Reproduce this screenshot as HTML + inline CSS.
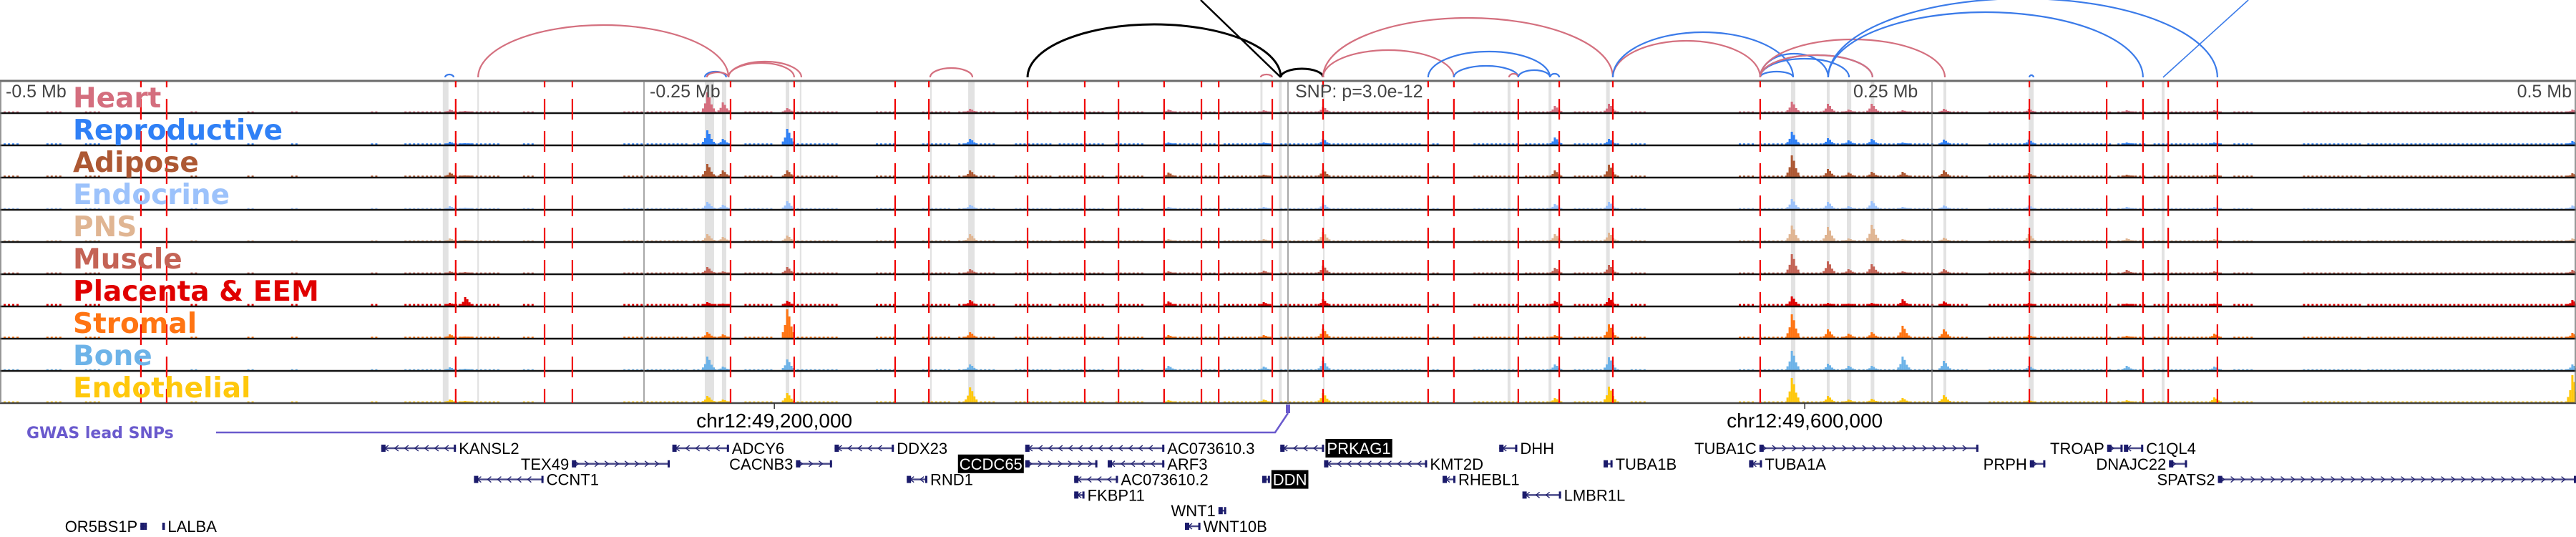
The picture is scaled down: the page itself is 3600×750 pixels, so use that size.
<!DOCTYPE html>
<html><head><meta charset="utf-8"><title>chr12 locus tracks</title>
<style>
html,body{margin:0;padding:0;background:#fff;}
svg{display:block;font-family:"Liberation Sans","DejaVu Sans",sans-serif;}
</style></head>
<body>
<svg id="chart" width="3600" height="750" viewBox="0 0 3600 750" xmlns="http://www.w3.org/2000/svg">
<g id="arcs"></g>
<g id="highlights"></g>
<g id="signals"></g>
<g id="frame"></g>
<g id="redlines"></g>
<g id="labels"></g>
<g id="genes"></g>
</svg>
<script>
// ---- data ----
const tissueNames = ["Heart","Reproductive","Adipose","Endocrine","PNS","Muscle","Placenta & EEM","Stromal","Bone","Endothelial"];
const tissueColors = ["#d46e7e","#2f80f6","#ad5833","#9cc2fb","#e0b592","#c46355","#e00000","#ff7412","#6db3e8","#ffc80c"];
const bgLevels = [2,2.5,2.5,2,2,2,3.5,2.5,2,2];
const bgSegments = [[-498.6,-493],[-482,-476],[-467,-461],[-426,-424],[-404,-401],[-387,-385],[-356,-353],[-343,-328],[-322,-306],[-297,-293],[-258,-251],[-249,-233],[-231,-217],[-211,-200],[-194,-175],[-160,-153],[-142,-131],[-128,-114],[-106,-92],[-89,-72],[-67,-56],[-44,-28],[-25,-8],[-3,11],[14,51],[56,58],[72,89],[92,106],[111,128],[133,139],[175,181],[183,250],[253,264],[272,289],[292,319],[322,333],[336,361],[367,375],[394,417],[419,500]];
const peakKb = [-325,-319,-225,-219,-194,-123,-46,-9,14,104,125,196,210,218,227,239,255,288,326,360,499];
const peakHeights = [
 [4,4,6,4,4,3,4,5,4,4],
 [2,2,2,2,2,2,12,2,2,2],
 [28,20,18,10,10,9,5,8,19,9],
 [14,8,9,6,6,3,3,5,5,4],
 [6,22,9,11,8,9,7,40,15,13],
 [5,8,9,6,10,6,8,8,8,21],
 [4,3,6,3,3,3,6,4,6,3],
 [3,3,3,3,3,4,5,4,5,4],
 [8,8,10,8,13,11,9,13,13,13],
 [9,10,9,7,10,8,7,4,8,6],
 [12,8,17,10,12,12,11,19,18,22],
 [15,18,30,14,22,27,13,33,27,34],
 [12,9,11,10,20,17,4,12,9,9],
 [4,6,6,4,4,6,3,6,6,4],
 [12,8,7,11,23,13,4,8,6,5],
 [3,3,7,3,3,3,9,17,19,6],
 [5,7,9,5,5,6,6,12,13,10],
 [5,7,5,5,10,6,4,4,6,3],
 [3,3,3,3,4,5,3,3,6,3],
 [3,3,3,3,3,3,3,6,5,7],
 [4,5,5,5,4,5,8,7,8,38]
];
const redLineKb = [-445.3,-435.3,-323.1,-288.6,-277.8,-216.4,-191.7,-152.5,-139.4,-101.1,-78.9,-65.8,-48.1,-33.6,-26.9,-6.1,13.6,54.4,64.4,89.4,105.3,126.1,183.3,287.8,317.8,331.9,341.7,360.8];
const highlightKb = [-327,-314.4,-224.6,-218.9,-194.3,-189.2,-138.6,-122.9,-10.3,-3,13.9,85.8,101.7,124.2,196.1,209.7,217.8,226.9,255,288.5,339.7];
const highlightWidthKb = [2.2,0.6,3.6,1.7,1.4,0.6,0.6,2.5,0.8,1.1,0.6,1.1,1.1,1.4,1.7,1.1,1.7,1.4,1.1,1.9,1.1];
const arcStart = [-327.2,-314.4,-226.4,-225.6,-217.2,-217.2,-138.9,-101.1,-10.6,-2.8,13.6,13.6,54.4,64.4,85.8,89.4,101.7,126.1,126.1,183.3,183.3,183.3,183.3,183.3,183.3,209.7,209.7,287.8];
const arcEnd   = [-323.9,-217.2,-218.1,-217.2,-191.7,-188.9,-122.5,-2.8,-6.1,13.6,126.1,64.4,101.7,89.4,89.4,101.7,105.3,183.3,196.1,196.1,209.7,217.8,226.9,226.9,255,331.9,360.8,289.4];
const arcHeight = [4,73,8,7,20,22,13,74,4,12,83,38,36,16,5,10,5,51,63,8,33,26,31,31,53,91,110,3];
const arcTissue = ["blue","pink","blue","pink","pink","pink","pink","black","pink","black","pink","pink","blue","blue","pink","blue","blue","pink","blue","blue","blue","blue","blue","pink","pink","blue","blue","blue"];
const lineStartKb = [-2.8,339.7];
const lineEndKb = [-33.9,372.8];
const lineTissue = ["black","blue"];
const geneNames = ["KANSL2","ADCY6","DDX23","AC073610.3","PRKAG1","DHH","TUBA1C","TROAP","C1QL4","TEX49","CACNB3","CCDC65","ARF3","KMT2D","TUBA1B","TUBA1A","PRPH","DNAJC22","CCNT1","RND1","AC073610.2","DDN","RHEBL1","SPATS2","FKBP11","LMBR1L","WNT1","WNT10B","OR5BS1P","LALBA"];
const geneStart = [-352,-239,-176,-102,-3,82,183,318,324.5,-278,-191,-102,-70,14,122.5,179,288,342,-316,-148,-83,-10,60,361,-83,91,-27,-40,-445.5,-437];
const geneEnd   = [-323,-217,-153,-48,14,89,268,324,332,-240,-177,-74,-48,54,126,184,294,349,-289,-140,-66,-7,65,500,-79,106,-24,-34,-443,-436];
const geneStrand = ["-","-","-","-","-","-","+","+","-","+","+","+","-","-","-","-","+","+","-","-","-","-","-","+","-","-","+","-","+","+"];
const geneRow = [0,0,0,0,0,0,0,0,0,1,1,1,1,1,1,1,1,1,2,2,2,2,2,2,3,3,4,5,5,5];
const geneLabelSide = ["R","R","R","R","R","R","L","L","R","L","L","L","R","R","R","R","L","L","R","R","R","R","R","L","R","R","L","R","L","R"];
const geneHighlighted = ["PRKAG1","CCDC65","DDN"];

// ---- axes ----
const NS = "http://www.w3.org/2000/svg";
const xScale = kb => 1800 + kb * 3.6;
const TRACK_TOP = 113, TRACK_H = 45;
const trackBottom = i => TRACK_TOP + TRACK_H * (i + 1);
const arcBase = 108;
const rowY = r => 626 + r * 21.8;
const arcColor = {pink:"#d4707f", blue:"#3b7be9", black:"#000"};

function mk(tag, attrs, parent){
  const el = document.createElementNS(NS, tag);
  for (const k in attrs) el.setAttribute(k, attrs[k]);
  parent.appendChild(el);
  return el;
}
const gArcs = document.getElementById("arcs");
const gHi = document.getElementById("highlights");
const gSig = document.getElementById("signals");
const gFrame = document.getElementById("frame");
const gRed = document.getElementById("redlines");
const gLab = document.getElementById("labels");
const gGenes = document.getElementById("genes");

// arcs
for (let i = 0; i < arcStart.length; i++){
  const x1 = xScale(arcStart[i]), x2 = xScale(arcEnd[i]);
  const rx = (x2 - x1) / 2, ry = arcHeight[i];
  const p = mk("path", {d:`M${x1},${arcBase} A${rx},${ry} 0 0 1 ${x2},${arcBase}`, fill:"none", stroke:arcColor[arcTissue[i]], "stroke-width": arcTissue[i]==="black"?3:2.2}, gArcs);
  
  
}
for (let i = 0; i < lineStartKb.length; i++){
  const l = mk("line", {x1:xScale(lineStartKb[i]), y1:arcBase, x2:xScale(lineEndKb[i]), y2:0, stroke:arcColor[lineTissue[i]], "stroke-width": lineTissue[i]==="black"?2.5:1.6}, gArcs);
  
  
}

// highlight columns
for (let i = 0; i < highlightKb.length; i++){
  const w = Math.max(2, highlightWidthKb[i] * 3.6);
  const r = mk("rect", {x:xScale(highlightKb[i]) - w/2, y:TRACK_TOP, width:w, height:TRACK_H*10, fill:"#e2e2e2"}, gHi);
  
  
}

// signals
for (let t = 0; t < tissueNames.length; t++){
  const g = mk("g", {fill:tissueColors[t]}, gSig);
  
  
  const base = trackBottom(t) - 1;
  for (let s = 0; s < bgSegments.length; s++){
    const x1 = xScale(bgSegments[s][0]), x2 = xScale(bgSegments[s][1]);
    const h = bgLevels[t] * 0.7;
    for (let x = x1; x < x2; x += 6){
      const r = mk("rect", {x:x, y:base - h, width:3, height:h}, g);
      
      
    }
  }
  for (let p = 0; p < peakKb.length; p++){
    const h = Math.min(43, peakHeights[p][t]);
    const cx = xScale(peakKb[p]);
    const shape = [[-9,0.2],[-6,0.45],[-3,1],[0,0.75],[3,0.4],[6,0.2]];
    shape.forEach(([dx, f]) => {
      const hh = Math.max(bgLevels[t]*0.7, h * f);
      const r = mk("rect", {x:cx + dx, y:base - hh, width:3, height:hh}, g);
      
      
    });
  }
}

// frame: separators
mk("line", {x1:0, y1:TRACK_TOP, x2:3600, y2:TRACK_TOP, stroke:"#6b6b6b", "stroke-width":3}, gFrame);
for (let t = 0; t < 10; t++){
  const y = trackBottom(t);
  const l = mk("line", {x1:0, y1:y, x2:3600, y2:y, stroke:t===9?"#444":"#111", "stroke-width":2.5}, gFrame);
  
  
}
mk("line", {x1:1, y1:TRACK_TOP, x2:1, y2:trackBottom(9), stroke:"#777", "stroke-width":1.5}, gFrame);
mk("line", {x1:3599, y1:TRACK_TOP, x2:3599, y2:trackBottom(9), stroke:"#777", "stroke-width":1.5}, gFrame);
[-250,0,250].forEach(kb=>{
  const l = mk("line", {x1:xScale(kb), y1:TRACK_TOP, x2:xScale(kb), y2:trackBottom(9), stroke:"#7a7a7a", "stroke-width":1.3}, gFrame);
  
  
});

// red dashed lines
for (let i = 0; i < redLineKb.length; i++){
  const l = mk("line", {x1:xScale(redLineKb[i]), y1:TRACK_TOP, x2:xScale(redLineKb[i]), y2:trackBottom(9), stroke:"#f00000", "stroke-width":2.2, "stroke-dasharray":"29 16", "stroke-dashoffset":20}, gRed);
  
  
}

// scale labels
const scaleTexts = [["-0.5 Mb",8,"start"],["-0.25 Mb",908,"start"],["SNP: p=3.0e-12",1810,"start"],["0.25 Mb",2590,"start"],["0.5 Mb",3594,"end"]];
scaleTexts.forEach(([s,x,a])=>{
  const tx = mk("text", {x:x, y:136, "font-size":25, fill:"#444", "text-anchor":a}, gLab);
  tx.textContent = s;
  
  
});
// track labels
for (let t = 0; t < tissueNames.length; t++){
  const tx = mk("text", {x:102, y:trackBottom(t) - 8, "font-size":39, "font-weight":"bold", fill:tissueColors[t], "font-family":"DejaVu Sans, Liberation Sans, sans-serif"}, gLab);
  tx.textContent = tissueNames[t];
  
  
}
// coordinate axis
[[49200000,-199.4],[49600000,200.6]].forEach(([pos,kb])=>{
  const x = xScale(kb);
  mk("line", {x1:x, y1:trackBottom(9), x2:x, y2:trackBottom(9)+8, stroke:"#333", "stroke-width":1.5}, gLab);
  const tx = mk("text", {x:x, y:597, "font-size":28, fill:"#000", "text-anchor":"middle"}, gLab);
  tx.textContent = "chr12:" + pos.toLocaleString("en-US");
  
  
});
// GWAS lead SNPs
const gw = mk("text", {x:37, y:612, "font-size":22, "font-weight":"bold", fill:"#6a5acd", "font-family":"DejaVu Sans, Liberation Sans, sans-serif"}, gLab);
gw.textContent = "GWAS lead SNPs";


mk("path", {d:`M302,604 L${xScale(-5)},604 L${xScale(0)},577`, fill:"none", stroke:"#6a5acd", "stroke-width":2.5}, gLab);
const snp = mk("rect", {x:xScale(0)-3, y:565, width:6, height:12, fill:"#6a5acd"}, gLab);



// genes
for (let i = 0; i < geneNames.length; i++){
  const x1 = xScale(geneStart[i]), x2 = xScale(geneEnd[i]), y = rowY(geneRow[i]);
  const g = mk("g", {}, gGenes);
  
  
  mk("line", {x1:x1, y1:y, x2:x2, y2:y, stroke:"#4a4a8a", "stroke-width":2.5}, g);
  const n = Math.floor((x2 - x1) / 14);
  for (let k = 0; k < n; k++){
    const cx = x1 + 7 + k * 14;
    const d = geneStrand[i] === "+" ? `M${cx-3},${y-4} L${cx+2},${y} L${cx-3},${y+4}` : `M${cx+3},${y-4} L${cx-2},${y} L${cx+3},${y+4}`;
    mk("path", {d:d, fill:"none", stroke:"#1f1f6e", "stroke-width":1.3}, g);
  }
  mk("rect", {x:x1, y:y-5, width:Math.min(6, x2-x1), height:10, fill:"#1b1b6b"}, g);
  mk("rect", {x:x2-3, y:y-5, width:3, height:10, fill:"#1b1b6b"}, g);
  const hl = geneHighlighted.includes(geneNames[i]);
  const right = geneLabelSide[i] === "R";
  const tx = mk("text", {x: right ? x2 + 4 : x1 - 4, y:y + 8, "font-size":22, fill: hl ? "#fff" : "#000", "text-anchor": right ? "start" : "end"}, g);
  tx.textContent = geneNames[i];
  
  
  if (hl){
    const bb = tx.getBBox();
    const bg = document.createElementNS(NS, "rect");
    bg.setAttribute("x", bb.x - 2); bg.setAttribute("y", y - 13);
    bg.setAttribute("width", bb.width + 4); bg.setAttribute("height", 26);
    bg.setAttribute("fill", "#000");
    g.insertBefore(bg, tx);
  }
}
</script>
</body></html>
